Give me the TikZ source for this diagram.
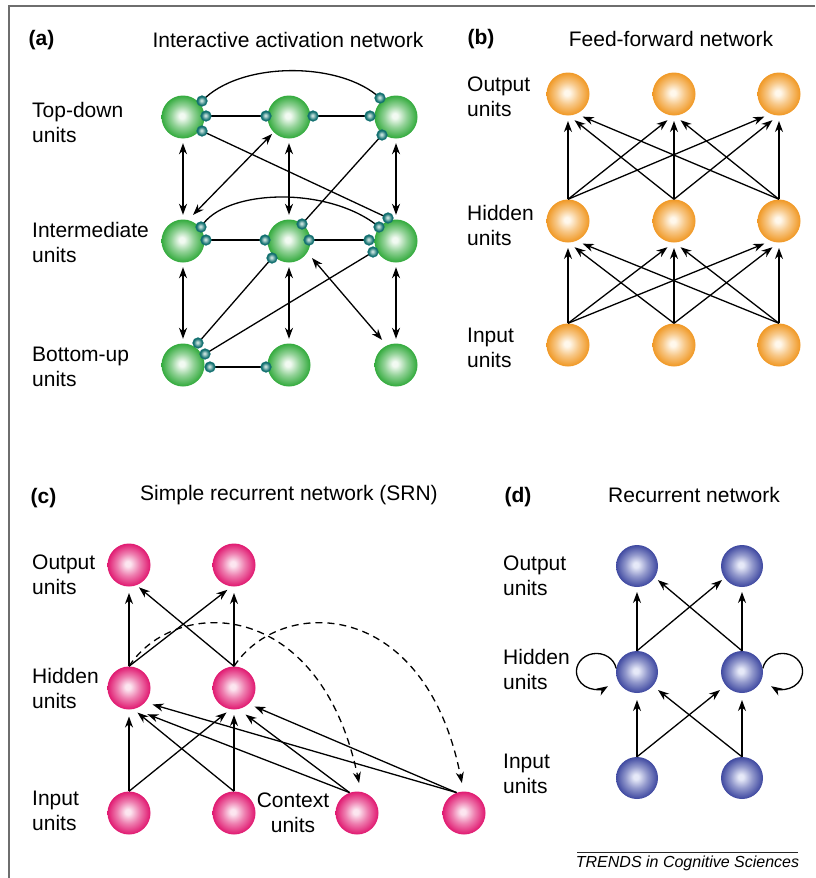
\documentclass[tikz,border=0pt]{standalone}
\usepackage{fontspec}
\setmainfont{Liberation Sans}
\usetikzlibrary{arrows.meta,calc,backgrounds}
\definecolor{gE}{RGB}{50,170,60}
\definecolor{gC}{RGB}{242,250,242}
\definecolor{oE}{RGB}{240,152,36}
\definecolor{oC}{RGB}{255,248,236}
\definecolor{pE}{RGB}{224,24,112}
\definecolor{pC}{RGB}{252,230,240}
\definecolor{bE}{RGB}{62,72,160}
\definecolor{bC}{RGB}{230,233,248}
\definecolor{tE}{RGB}{18,112,112}
\definecolor{tC}{RGB}{200,226,222}
\definecolor{frameC}{RGB}{110,110,110}
\pgfdeclareradialshading{gshade}{\pgfpoint{-1.5bp}{1.5bp}}{color(0bp)=(gC); color(3bp)=(gC); color(13bp)=(gE!50!gC); color(25bp)=(gE); color(30bp)=(gE)}
\pgfdeclareradialshading{oshade}{\pgfpoint{-1.5bp}{1.5bp}}{color(0bp)=(oC); color(3bp)=(oC); color(13bp)=(oE!50!oC); color(25bp)=(oE); color(30bp)=(oE)}
\pgfdeclareradialshading{pshade}{\pgfpoint{-1.5bp}{1.5bp}}{color(0bp)=(pC); color(3bp)=(pC); color(13bp)=(pE!50!pC); color(25bp)=(pE); color(30bp)=(pE)}
\pgfdeclareradialshading{bshade}{\pgfpoint{-1.5bp}{1.5bp}}{color(0bp)=(bC); color(3bp)=(bC); color(13bp)=(bE!50!bC); color(25bp)=(bE); color(30bp)=(bE)}
\pgfdeclareradialshading{tshade}{\pgfpoint{-3bp}{3bp}}{color(0bp)=(tC); color(3bp)=(tC); color(20bp)=(tE); color(35bp)=(tE)}
\tikzset{
  ball/.style={circle, minimum size=43pt, inner sep=0pt, shade},
  gball/.style={ball, shading=gshade},
  oball/.style={ball, shading=oshade},
  pball/.style={ball, shading=pshade},
  bball/.style={ball, shading=bshade, minimum size=42pt},
  knob/.style={circle, minimum size=10.5pt, inner sep=0pt, shade, shading=tshade, draw=tE, line width=0.7pt},
  arr/.style={line width=1.3pt, -{Stealth[length=11pt,width=8pt,inset=3.5pt]}},
  darr/.style={line width=1.3pt, {Stealth[length=11pt,width=8pt,inset=3.5pt]}-{Stealth[length=11pt,width=8pt,inset=3.5pt]}},
  link/.style={line width=1.3pt},
  lab/.style={anchor=west, align=left, font=\fontsize{21}{25}\selectfont, inner sep=0pt},
  ctrlab/.style={align=center, font=\fontsize{21}{25}\selectfont, inner sep=0pt},
  ttl/.style={font=\fontsize{21}{25}\selectfont, inner sep=0pt},
  bttl/.style={font=\fontsize{21}{25}\selectfont\bfseries, inner sep=0pt},
}
\begin{document}
\begin{tikzpicture}[x=1pt,y=1pt]
\useasboundingbox (0,0) rectangle (815,-878);
% frame
\draw[frameC, line width=1.5pt] (9,-878) -- (9,-6) -- (815,-6);

% ---------------- (a) ----------------
\node[bttl] (ta) at (41.5,-40) {(a)};
\node[ttl] (tta) at (288,-40) {Interactive activation network};
\node[lab] (la1) at (32,-122.5) {Top-down\\units};
\node[lab] (la2) at (32,-242.5) {Intermediate\\units};
\node[lab] (la3) at (32,-366.5) {Bottom-up\\units};

\node[gball] (a11) at (183,-117) {};
\node[gball] (a12) at (289,-117) {};
\node[gball] (a13) at (396,-117) {};
\node[gball] (a21) at (183,-241) {};
\node[gball] (a22) at (289,-241) {};
\node[gball] (a23) at (396,-241) {};
\node[gball] (a31) at (183,-365) {};
\node[gball] (a32) at (289,-365) {};
\node[gball] (a33) at (396,-365) {};

\node[knob] (k11a) at (202,-101) {};
\node[knob] (k11b) at (206,-116) {};
\node[knob] (k11c) at (202,-131) {};
\node[knob] (k12a) at (266,-116) {};
\node[knob] (k12b) at (313,-116) {};
\node[knob] (k13a) at (380,-98) {};
\node[knob] (k13b) at (370,-116) {};
\node[knob] (k13c) at (382,-135) {};
\node[knob] (k21a) at (201,-227) {};
\node[knob] (k21b) at (206,-240) {};
\node[knob] (k22a) at (302,-224) {};
\node[knob] (k22b) at (265,-240) {};
\node[knob] (k22c) at (309,-240) {};
\node[knob] (k22d) at (272,-258) {};
\node[knob] (k23a) at (388,-218) {};
\node[knob] (k23b) at (379,-227) {};
\node[knob] (k23c) at (369,-240) {};
\node[knob] (k23d) at (373,-252) {};
\node[knob] (k31a) at (198,-343) {};
\node[knob] (k31b) at (205,-354) {};
\node[knob] (k31c) at (210,-367) {};
\node[knob] (k32a) at (266,-367) {};

\begin{scope}[on background layer]
\draw[link] (k11a.center) .. controls (240,-61) and (340,-61) .. (k13a.center);
\draw[link] (k11b.center) -- (k12a.center);
\draw[link] (k12b.center) -- (k13b.center);
\draw[link] (k11c.center) -- (k23a.center);
\draw[link] (k13c.center) -- (k22a.center);
\draw[link] (k21a.center) .. controls (225,-188) and (330,-186) .. (k23b.center);
\draw[link] (k21b.center) -- (k22b.center);
\draw[link] (k22c.center) -- (k23c.center);
\draw[link] (k22d.center) -- (k31a.center);
\draw[link] (k23d.center) -- (k31b.center);
\draw[link] (k31c.center) -- (k32a.center);
\end{scope}

\foreach \u/\v in {a11/a21,a12/a22,a13/a23,a21/a31,a22/a32,a23/a33}
  \draw[darr, shorten <=4.5pt, shorten >=4.5pt] (\u) -- (\v);
\draw[darr] ($(a12)+(-135:24)$) -- ($(a21)+(69:28)$);
\draw[darr] ($(a22)+(-36.5:28.6)$) -- ($(a33)+(119:28.7)$);

% ---------------- (b) ----------------
\node[bttl] (tb) at (481,-39) {(b)};
\node[ttl] (ttb) at (671,-39) {Feed-forward network};
\node[lab] (lb1) at (467,-96.5) {Output\\units};
\node[lab] (lb2) at (467,-225) {Hidden\\units};
\node[lab] (lb3) at (467,-348) {Input\\units};

\node[oball] (bo1) at (568,-94) {};
\node[oball] (bo2) at (674,-94) {};
\node[oball] (bo3) at (779,-94) {};
\node[oball] (bh1) at (568,-221) {};
\node[oball] (bh2) at (674,-221) {};
\node[oball] (bh3) at (779,-221) {};
\node[oball] (bi1) at (568,-345) {};
\node[oball] (bi2) at (674,-345) {};
\node[oball] (bi3) at (779,-345) {};

\foreach \s/\t/\a in {1/1/-90, 2/1/-76, 3/1/-57, 1/2/-104, 2/2/-90, 3/2/-76, 1/3/-123, 2/3/-104, 3/3/-90}{
  \draw[arr] (bh\s.north) -- ($(bo\t)+(\a:27)$);
  \draw[arr] (bi\s.north) -- ($(bh\t)+(\a:27)$);
}

% ---------------- (c) ----------------
\node[bttl] (tc) at (43.5,-498) {(c)};
\node[ttl] (ttc) at (289,-495) {Simple recurrent network (SRN)};
\node[lab] (lc1) at (32,-574.5) {Output\\units};
\node[lab] (lc2) at (32,-688.5) {Hidden\\units};
\node[lab] (lc3) at (32,-810.5) {Input\\units};
\node[ctrlab] (lc4) at (293,-813) {Context\\units};

\node[pball] (co1) at (129,-565) {};
\node[pball] (co2) at (234,-565) {};
\node[pball] (ch1) at (129,-688) {};
\node[pball] (ch2) at (234,-688) {};
\node[pball] (ci1) at (129,-813) {};
\node[pball] (ci2) at (234,-813) {};
\node[pball] (cc1) at (357,-813) {};
\node[pball] (cc2) at (464,-813) {};

\draw[arr] (ch1.north) -- ($(co1)+(-90:28)$);
\draw[arr] (ch1.north) -- ($(co2)+(-105:25.7)$);
\draw[arr] (ch2.north) -- ($(co1)+(-66:24.5)$);
\draw[arr] (ch2.north) -- ($(co2)+(-90:28)$);
\draw[arr] (ci1.north) -- ($(ch1)+(-90:28.5)$);
\draw[arr] (ci1.north) -- ($(ch2)+(-107:25.6)$);
\draw[arr] (ci2.north) -- ($(ch1)+(-71:26)$);
\draw[arr] (ci2.north) -- ($(ch2)+(-90:27)$);
\draw[arr] (cc1.110) -- ($(ch1)+(-55:32)$);
\draw[arr] (cc1.110) -- ($(ch2)+(-66.5:29)$);
\draw[arr] (cc2.110) -- ($(ch1)+(-35:28.7)$);
\draw[arr] (cc2.110) -- ($(ch2)+(-42:27.6)$);
\draw[arr, dash pattern=on 7pt off 5pt] (ch1.north) .. controls (175,-596) and (320,-596) .. ($(cc1)+(86:30)$);
\draw[arr, dash pattern=on 7pt off 5pt] (ch2.north) .. controls (280,-596) and (425,-596) .. ($(cc2)+(94:30)$);

% ---------------- (d) ----------------
\node[bttl] (td) at (518,-497) {(d)};
\node[ttl] (ttd) at (694,-495) {Recurrent network};
\node[lab] (ld1) at (503,-575.5) {Output\\units};
\node[lab] (ld2) at (503,-669.5) {Hidden\\units};
\node[lab] (ld3) at (503,-773.5) {Input\\units};

\node[bball] (do1) at (637,-566) {};
\node[bball] (do2) at (742,-566) {};
\node[bball] (dh1) at (637,-672) {};
\node[bball] (dh2) at (742,-672) {};
\node[bball] (di1) at (637,-778) {};
\node[bball] (di2) at (742,-778) {};

\draw[arr] (dh1.north) -- ($(do1)+(-90:26)$);
\draw[arr] (dh1.north) -- ($(do2)+(-145:24.4)$);
\draw[arr] (dh2.north) -- ($(do1)+(-34:25.2)$);
\draw[arr] (dh2.north) -- ($(do2)+(-90:26)$);
\draw[arr] (di1.north) -- ($(dh1)+(-90:28)$);
\draw[arr] (di1.north) -- ($(dh2)+(-140.7:28.4)$);
\draw[arr] (di2.north) -- ($(dh1)+(-40.6:27.7)$);
\draw[arr] (di2.north) -- ($(dh2)+(-90:28)$);
\draw[arr] (dh1.170) arc[start angle=10, end angle=305, x radius=20, y radius=18];
\draw[arr] (dh2.10) arc[start angle=170, end angle=-125, x radius=20, y radius=18];

% footer
\draw[line width=0.8pt, black!85] (577,-852) coordinate (fl) -- (798,-852) coordinate (fr);
\node[font=\fontsize{16}{19}\selectfont\itshape, inner sep=0pt] (foot) at (687.5,-863) {TRENDS in Cognitive Sciences};
\end{tikzpicture}
\end{document}
